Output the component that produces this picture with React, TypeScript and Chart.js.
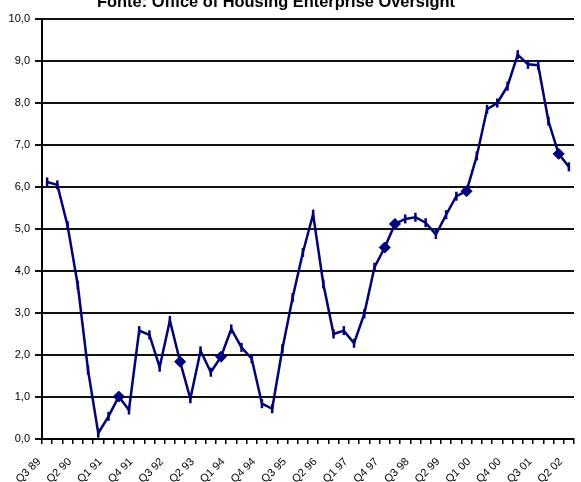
import React, { useEffect, useRef } from "react";
import { Chart, registerables } from "chart.js";

Chart.register(...registerables);

const TITLE = "Fonte: Office of Housing Enterprise Oversight";

const quarters: string[] = [
  "Q3 89", "Q4 89", "Q1 90", "Q2 90", "Q3 90", "Q4 90", "Q1 91", "Q2 91", "Q3 91", "Q4 91",
  "Q1 92", "Q2 92", "Q3 92", "Q4 92", "Q1 93", "Q2 93", "Q3 93", "Q4 93", "Q1 94", "Q2 94",
  "Q3 94", "Q4 94", "Q1 95", "Q2 95", "Q3 95", "Q4 95", "Q1 96", "Q2 96", "Q3 96", "Q4 96",
  "Q1 97", "Q2 97", "Q3 97", "Q4 97", "Q1 98", "Q2 98", "Q3 98", "Q4 98", "Q1 99", "Q2 99",
  "Q3 99", "Q4 99", "Q1 00", "Q2 00", "Q3 00", "Q4 00", "Q1 01", "Q2 01", "Q3 01", "Q4 01",
  "Q1 02", "Q2 02",
];

const values: number[] = [
  6.12, 6.05, 5.08, 3.66, 1.64, 0.14, 0.54, 1.01, 0.69, 2.58,
  2.48, 1.71, 2.82, 1.84, 0.96, 2.10, 1.59, 1.96, 2.62, 2.18,
  1.91, 0.84, 0.72, 2.15, 3.37, 4.44, 5.35, 3.69, 2.50, 2.58,
  2.28, 2.98, 4.09, 4.56, 5.12, 5.24, 5.28, 5.15, 4.87, 5.34,
  5.78, 5.90, 6.74, 7.85, 8.00, 8.40, 9.15, 8.92, 8.90, 7.57,
  6.79, 6.48,
];

// quarters drawn with a diamond marker
const diamondQuarters: string[] = ["Q2 91", "Q4 92", "Q4 93", "Q4 97", "Q1 98", "Q4 99", "Q1 02"];

const LABEL_EVERY = 3;
const FONT = '"Liberation Sans", Arial, sans-serif';

export default function App() {
  const ref = useRef<HTMLCanvasElement | null>(null);

  useEffect(() => {
    if (!ref.current) return;
    const isDiamond = (i: number) => diamondQuarters.includes(quarters[i]);

    const overlay = {
      id: "overlay",
      afterDraw(chart: any) {
        const ctx = chart.ctx;
        const xs = chart.scales.x;
        ctx.save();
        // title (partly cut off at the top, as in the reference)
        ctx.fillStyle = "#000";
        ctx.font = `bold 16.4px ${FONT}`;
        ctx.textAlign = "center";
        ctx.textBaseline = "alphabetic";
        ctx.fillText(TITLE, 276, 7);
        // rotated x labels
        ctx.font = `11px ${FONT}`;
        ctx.textAlign = "right";
        ctx.textBaseline = "middle";
        quarters.forEach((q, i) => {
          if (i % LABEL_EVERY !== 0) return;
          const x = xs.getPixelForValue(i) - 8;
          const y = chart.chartArea.bottom + 21;
          ctx.save();
          ctx.translate(x, y);
          ctx.rotate(-Math.PI / 4);
          ctx.fillText(q, 0, 0);
          ctx.restore();
        });
        ctx.restore();
      },
    };

    const chart = new Chart(ref.current, {
      type: "line",
      data: {
        labels: quarters,
        datasets: [
          {
            data: values,
            borderColor: "#000080",
            backgroundColor: "#000080",
            borderWidth: 2.5,
            tension: 0,
            pointStyle: values.map((_, i) => (isDiamond(i) ? "rectRot" : "line")) as any,
            pointRotation: values.map((_, i) => (isDiamond(i) ? 0 : 90)),
            pointRadius: values.map((_, i) => (isDiamond(i) ? 5.5 : 4.5)),
            pointBorderWidth: values.map((_, i) => (isDiamond(i) ? 1 : 2.5)),
            pointBorderColor: "#000080",
            pointBackgroundColor: "#000080",
          },
        ],
      },
      options: {
        responsive: false,
        animation: false,
        devicePixelRatio: 1,
        layout: { padding: { top: 19, right: 7, left: 0, bottom: 0 } },
        plugins: {
          legend: { display: false },
          tooltip: { enabled: false },
          title: { display: false },
        },
        scales: {
          x: {
            type: "category",
            offset: true,
            grid: {
              offset: true,
              drawOnChartArea: false,
              drawTicks: true,
              tickLength: 5,
              color: "#000",
              lineWidth: 1.5,
            },
            border: { display: true, color: "#000", width: 2 },
            ticks: { display: false, autoSkip: false },
            afterFit: (s: any) => {
              s.height = 43;
            },
          },
          y: {
            min: 0,
            max: 10,
            ticks: {
              stepSize: 1,
              color: "#000",
              padding: 5,
              font: { family: FONT, size: 11 },
              callback: (v: any) => Number(v).toFixed(1).replace(".", ","),
            },
            grid: {
              color: "#111",
              lineWidth: 2,
              drawTicks: true,
              tickLength: 7,
            },
            border: { display: true, color: "#000", width: 2 },
            afterFit: (s: any) => {
              s.width = 42;
            },
          },
        },
      },
      plugins: [overlay],
    });
    return () => chart.destroy();
  }, []);

  return (
    <div style={{ position: "absolute", left: 0, top: 0, width: 581, height: 482, background: "#fff" }}>
      <canvas ref={ref} width={581} height={482} style={{ display: "block" }} />
    </div>
  );
}
